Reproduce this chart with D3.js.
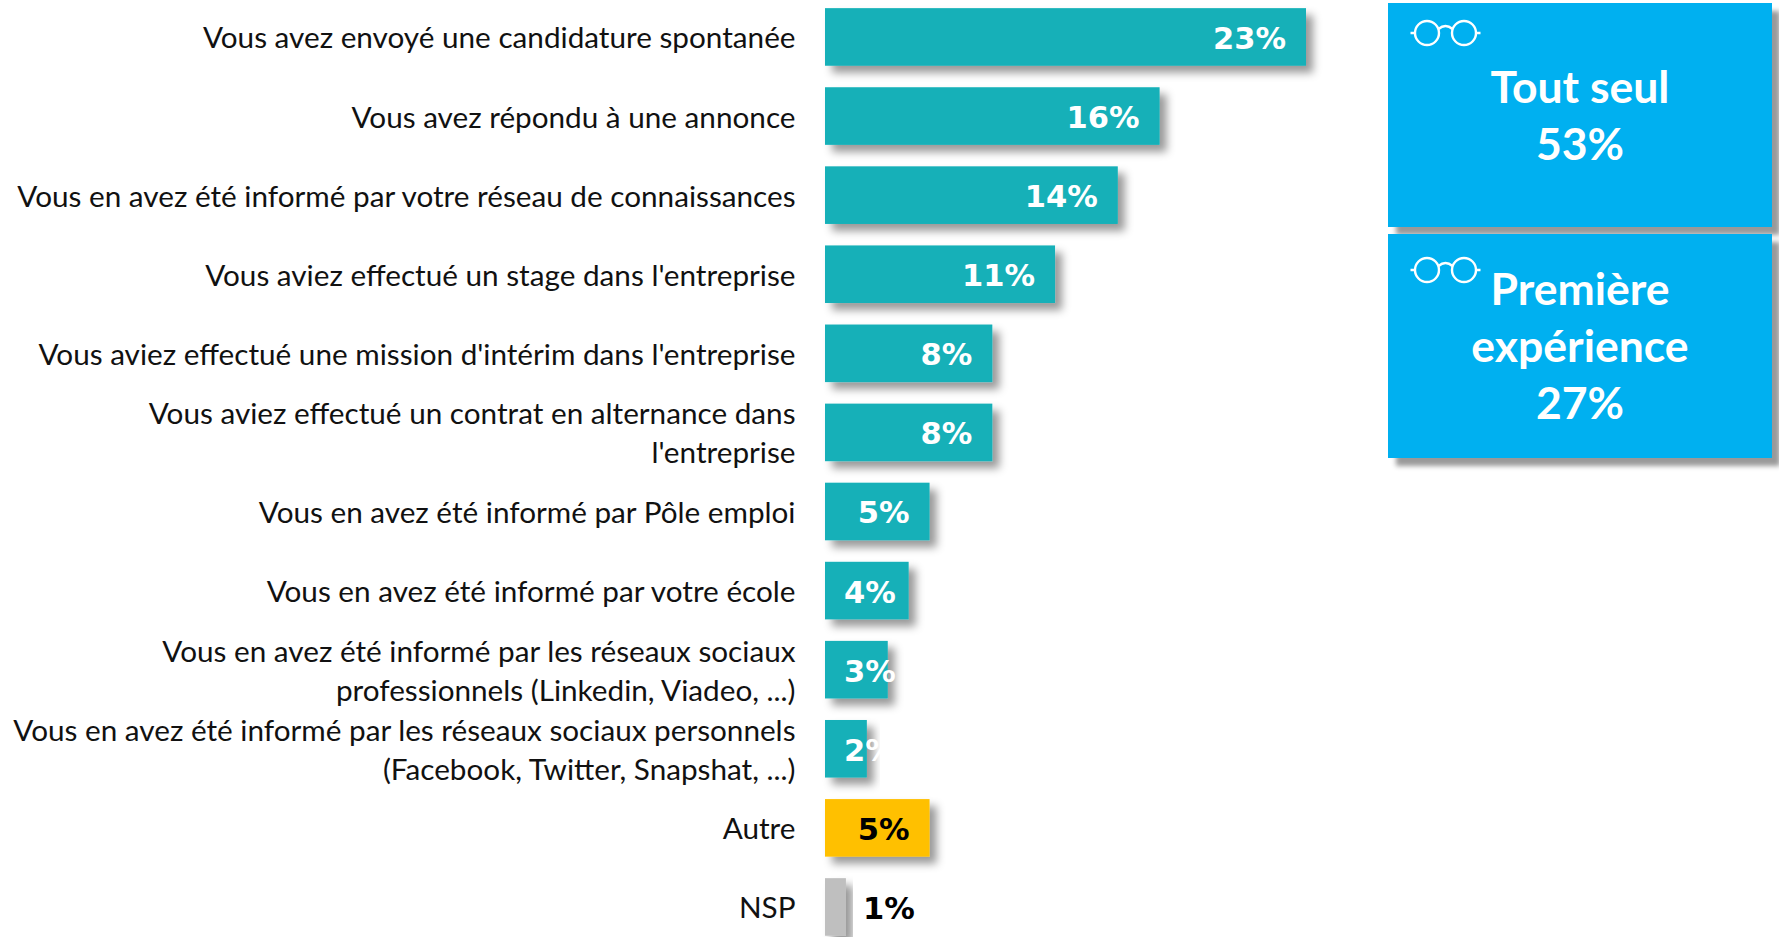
<!DOCTYPE html>
<html lang="fr">
<head>
<meta charset="utf-8">
<title>Candidature</title>
<script src="https://cdn.jsdelivr.net/npm/d3@7"></script>
<style>
  html, body { margin: 0; padding: 0; background: #fff; overflow: hidden; }
  svg { display: block; }
</style>
</head>
<body>
<svg id="chart_svg"></svg>
<script>
const categories = [
  "Vous avez envoyé une candidature spontanée",
  "Vous avez répondu à une annonce",
  "Vous en avez été informé par votre réseau de connaissances",
  "Vous aviez effectué un stage dans l'entreprise",
  "Vous aviez effectué une mission d'intérim dans l'entreprise",
  "Vous aviez effectué un contrat en alternance dans|l'entreprise",
  "Vous en avez été informé par Pôle emploi",
  "Vous en avez été informé par votre école",
  "Vous en avez été informé par les réseaux sociaux|professionnels (Linkedin, Viadeo, ...)",
  "Vous en avez été informé par les réseaux sociaux personnels|(Facebook, Twitter, Snapshat, ...)",
  "Autre",
  "NSP",
];
const values = [23, 16, 14, 11, 8, 8, 5, 4, 3, 2, 5, 1];
const barColors = ["#13b0b8", "#13b0b8", "#13b0b8", "#13b0b8", "#13b0b8", "#13b0b8",
  "#13b0b8", "#13b0b8", "#13b0b8", "#13b0b8", "#ffc000", "#bfbfbf"];
const labelColors = ["#fff", "#fff", "#fff", "#fff", "#fff", "#fff",
  "#fff", "#fff", "#fff", "#fff", "#000", "#000"];

const boxLines = [["Tout seul", "53%"], ["Première", "expérience", "27%"]];

const width = 1779;
const height = 937;

const svg = d3.select("#chart_svg").attr("width", width).attr("height", height);

// drop shadows used by the bars and the two boxes
const defs = svg.append("defs");
defs.append("filter").attr("id", "bar_shadow")
  .attr("x", "-20%").attr("y", "-20%").attr("width", "150%").attr("height", "150%")
  .append("feDropShadow")
  .attr("dx", 7).attr("dy", 7).attr("stdDeviation", 4)
  .attr("flood-color", "#000").attr("flood-opacity", 0.4);
defs.append("filter").attr("id", "box_shadow")
  .attr("x", "-10%").attr("y", "-10%").attr("width", "120%").attr("height", "125%")
  .append("feDropShadow")
  .attr("dx", 8).attr("dy", 8).attr("stdDeviation", 2.5)
  .attr("flood-color", "#000").attr("flood-opacity", 0.4);

// scales: 1% is about 20.9px, bands step about 79px
const x = d3.scaleLinear().domain([0, 23]).range([825, 1306]);
const y = d3.scaleBand()
  .domain(categories)
  .range([-2.6, 946.5])
  .paddingInner(0.272)
  .paddingOuter(0.136);

const rows = svg.selectAll(".row")
  .data(categories)
  .enter()
  .append("g")
  .attr("class", "row");

rows.append("rect")
  .attr("x", x(0))
  .attr("y", (d) => y(d))
  .attr("width", (d, i) => x(values[i]) - x(0))
  .attr("height", y.bandwidth())
  .attr("fill", (d, i) => barColors[i])
  .attr("filter", "url(#bar_shadow)");

// category labels, right aligned, split on | when they take two lines
const lineHeight = 39;
rows.append("text")
  .attr("class", "category")
  .attr("text-anchor", "end")
  .attr("font-family", "Lato")
  .attr("font-size", 29.7)
  .attr("fill", "#111")
  .each(function (d) {
    const lines = d.split("|");
    const cy = y(d) + y.bandwidth() / 2;
    d3.select(this).selectAll("tspan")
      .data(lines)
      .enter()
      .append("tspan")
      .attr("x", 795.5)
      .attr("y", (l, j) => cy + 11.5 + (j - (lines.length - 1) / 2) * lineHeight)
      .text((l) => l);
  });

// value labels
rows.append("text")
  .attr("class", "value")
  .attr("font-family", "DejaVu Sans")
  .attr("font-weight", "bold")
  .attr("font-size", 30.5)
  .attr("fill", (d, i) => labelColors[i])
  .attr("y", (d) => y(d) + y.bandwidth() / 2 + 12)
  .text((d, i) => values[i] + "%")
  .each(function (d, i) {
    const w = this.getComputedTextLength();
    const end = x(values[i]);
    let px = end - 20 - w;
    if (values[i] === 1) px = end + 17;
    else if (px < 844) px = 844;
    d3.select(this).attr("x", px);
  });

// blue boxes on the right
const boxTop = [3, 234];
const boxBaseline = [103, 305];
const iconY = [33, 270];

const boxes = svg.selectAll(".box")
  .data(boxLines)
  .enter()
  .append("g")
  .attr("class", "box");

boxes.append("rect")
  .attr("x", 1388)
  .attr("y", (d, i) => boxTop[i])
  .attr("width", 384)
  .attr("height", 224)
  .attr("fill", "#00b0f0")
  .attr("filter", "url(#box_shadow)");

boxes.append("text")
  .attr("text-anchor", "middle")
  .attr("font-family", "Lato")
  .attr("font-weight", "bold")
  .attr("font-size", 44.5)
  .attr("fill", "#fff")
  .each(function (d, i) {
    d3.select(this).selectAll("tspan")
      .data(d)
      .enter()
      .append("tspan")
      .attr("x", 1580)
      .attr("y", (l, j) => boxBaseline[i] + j * 57)
      .text((l) => l);
  });

// glasses icon
const icon = boxes.append("g")
  .attr("transform", (d, i) => "translate(1445.5," + iconY[i] + ")")
  .attr("fill", "none")
  .attr("stroke", "#fff")
  .attr("stroke-width", 2.4);
icon.append("circle").attr("cx", -18.5).attr("cy", 0).attr("r", 12);
icon.append("circle").attr("cx", 18.5).attr("cy", 0).attr("r", 12);
icon.append("path").attr("d", "M-7,-4Q0,-10 7,-4");
icon.append("path").attr("d", "M-35,0H-31M31,0H35");
</script>
</body>
</html>
